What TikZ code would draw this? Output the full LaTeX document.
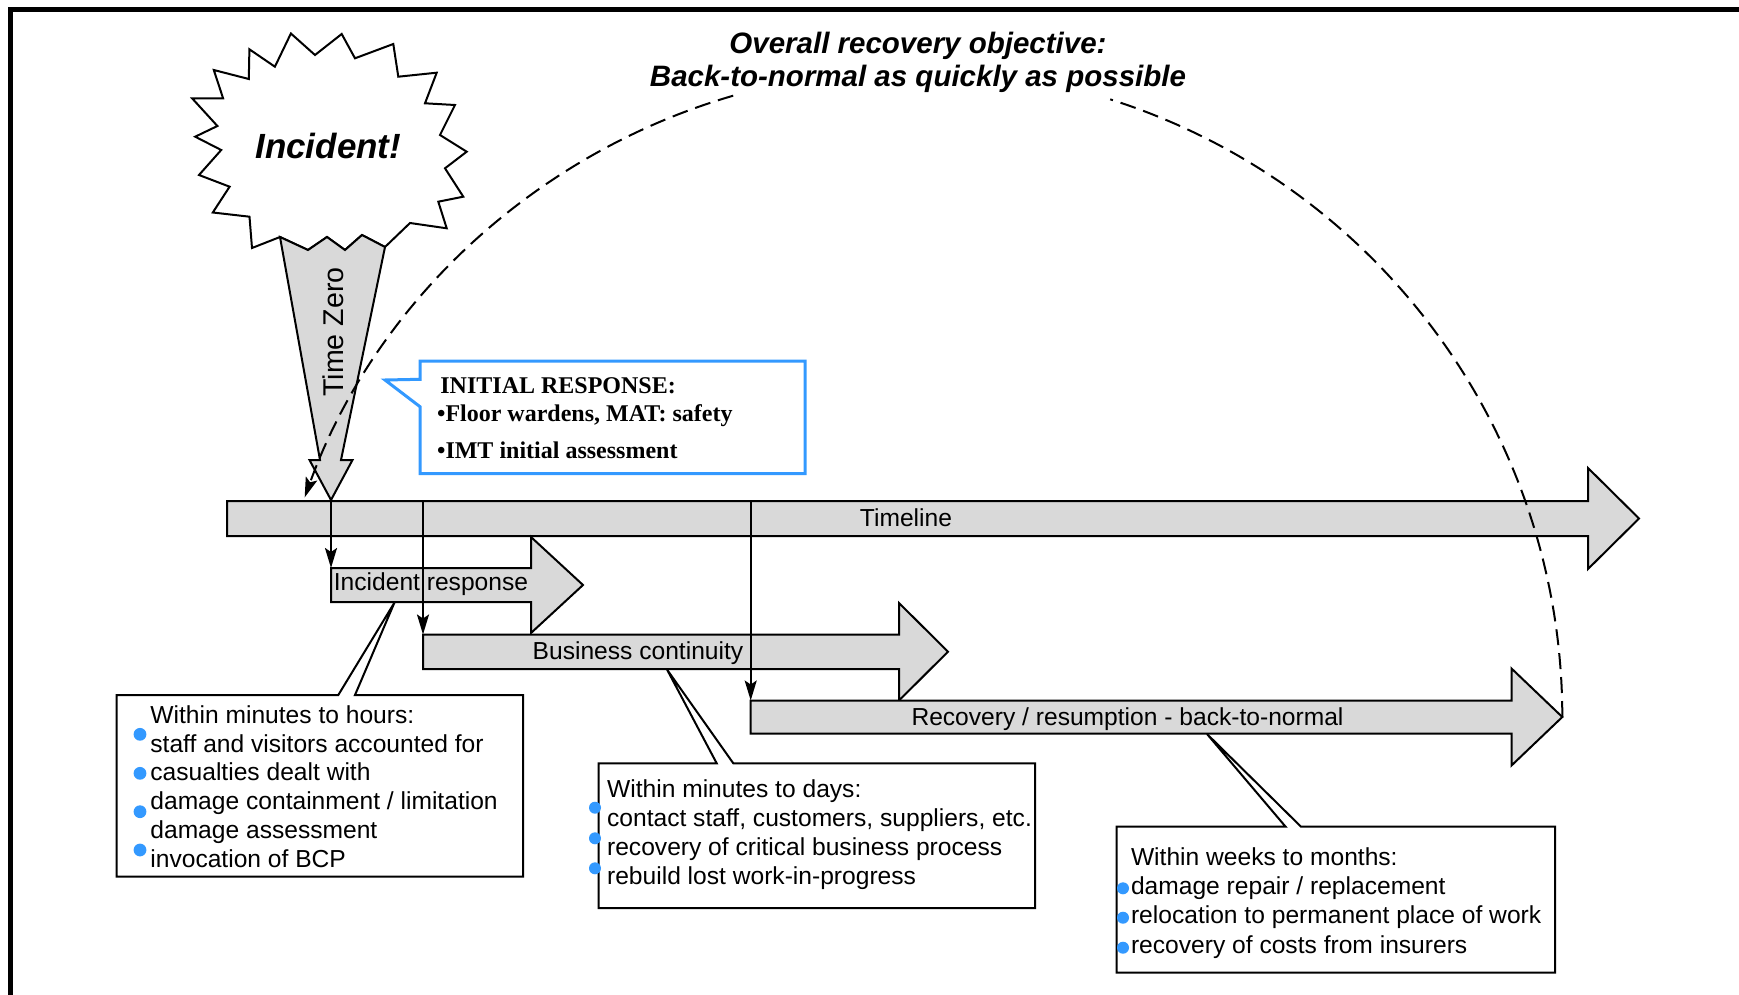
\documentclass[tikz,border=0pt]{standalone}
\usepackage{fontspec}
\newfontfamily\arialfont{Liberation Sans}
\newfontfamily\timesfont{Liberation Serif}
\usetikzlibrary{arrows.meta}
\definecolor{arrowgray}{RGB}{217,217,217}
\definecolor{calloutblue}{RGB}{51,153,255}
\definecolor{dotblue}{RGB}{51,153,255}
\begin{document}
\begin{tikzpicture}[x=0.5pt,y=-0.5pt,
  outline/.style={draw=black,line width=1pt,line join=miter},
  blockarrow/.style={outline,fill=arrowgray},
  calloutbox/.style={outline,fill=white},
  arrowlbl/.style={font=\arialfont\fontsize{12.3}{14.35}\selectfont,inner sep=0pt,anchor=base},
  boxtxt/.style={font=\arialfont\fontsize{12.3}{14.35}\selectfont,inner sep=0pt,anchor=base west},
  irtxt/.style={font=\timesfont\bfseries\fontsize{12}{14}\selectfont,inner sep=0pt,anchor=base west},
  titletxt/.style={font=\arialfont\bfseries\itshape\fontsize{14.75}{17}\selectfont,inner sep=0pt,anchor=base},
  smalltip/.style={-{Stealth[length=10pt,width=6pt,inset=2pt]}},
  conn/.style={draw=black,line width=1pt,smalltip},
  arcline/.style={draw=black,line width=1pt,dash pattern=on 8pt off 4pt},
]
\useasboundingbox (0,0) rectangle (1739,995);
% frame
\draw[line width=2.5pt,line join=miter] (10.5,995) -- (10.5,9.5) -- (1739,9.5);

% incident burst
\draw[outline,fill=white] (290.9,33.5) -- (315,55) -- (341.7,34) -- (355,58.3) -- (393.3,44) -- (398.3,76.7)
  -- (436.7,72.7) -- (425,103.3) -- (455,105) -- (440,135) -- (466.7,151.7) -- (445,168.3)
  -- (463.3,196.7) -- (438.3,201.7) -- (446.7,228.3) -- (410,223) -- (385,247) -- (362,235)
  -- (345,250) -- (327,237) -- (308,250) -- (280,237) -- (252,248) -- (249.5,216.7)
  -- (212.8,212.5) -- (229.6,186.7) -- (199,175) -- (221.2,150) -- (195.2,136.7) -- (217.4,126)
  -- (192.1,98.3) -- (223.1,98.3) -- (213.8,70) -- (248.8,79) -- (249.4,49.3) -- (274.9,66.7) -- cycle;
% time zero arrow
\draw[blockarrow] (280,237) -- (308,250) -- (327,237) -- (345,250) -- (362,235) -- (385,247)
  -- (341,460) -- (352.5,460) -- (331,500) -- (309.5,460) -- (320,460) -- cycle;

% block arrows
\draw[blockarrow] (227,501) -- (1588,501) -- (1588,468) -- (1639,518.5) -- (1588,569) -- (1588,536) -- (227,536) -- cycle;
\draw[blockarrow] (331,568) -- (531,568) -- (531,537) -- (583,585) -- (531,633) -- (531,602) -- (331,602) -- cycle;
\draw[blockarrow] (423,634.5) -- (899,634.5) -- (899,603) -- (948,651.7) -- (899,700.5) -- (899,669) -- (423,669) -- cycle;
\draw[blockarrow] (750.7,700.5) -- (1511.5,700.5) -- (1511.5,668.5) -- (1562.3,717) -- (1511.5,765.5) -- (1511.5,733.5) -- (750.7,733.5) -- cycle;

\node[arrowlbl] (tlLabel) at (906,526) {Timeline};
\node[arrowlbl] (irLabel) at (431,590.7) {Incident response};
\node[arrowlbl] (bcLabel) at (638,659.3) {Business continuity};
\node[arrowlbl] (recLabel) at (1127.5,725) {Recovery / resumption - back-to-normal};

% connectors from timeline
\coordinate (t1) at (331,501);
\coordinate (t2) at (423,501);
\coordinate (t3) at (750.7,501);
\coordinate (irNW) at (331,568);
\coordinate (bcNW) at (423,634.5);
\coordinate (recNW) at (750.7,700.5);
\coordinate (recTip) at (1562.3,717);
\draw[conn] (t1) -- (irNW);
\draw[conn] (t2) -- (bcNW);
\draw[conn] (t3) -- (recNW);

% callout boxes
\draw[calloutbox] (116.7,695) -- (338.3,695) -- (394.5,602.5) -- (355,695) -- (523,695) -- (523,876.7) -- (116.7,876.7) -- cycle;
\draw[calloutbox] (598.5,763.3) -- (716.7,763.3) -- (667,669.5) -- (733.3,763.3) -- (1035,763.3) -- (1035,908) -- (598.5,908) -- cycle;
\draw[calloutbox] (1116.5,826.7) -- (1285.6,826.7) -- (1207,734) -- (1301,826.7) -- (1555,826.7) -- (1555,972.7) -- (1116.5,972.7) -- cycle;

\foreach \t [count=\i] in {Within minutes to hours:, staff and visitors accounted for, casualties dealt with,
  damage containment / limitation, damage assessment, invocation of BCP}
  \node[boxtxt] (hA\i) at (150,{723.5+28.7*(\i-1)}) {\t};
\foreach \y in {734.3,773.3,811.7,850} \fill[dotblue] (140,\y) circle[radius=3.2pt];

\foreach \t [count=\i] in {Within minutes to days:, {contact staff, customers, suppliers, etc.},
  recovery of critical business process, rebuild lost work-in-progress}
  \node[boxtxt] (hB\i) at (606.7,{797.3+28.9*(\i-1)}) {\t};
\foreach \y in {807.7,838.3,868.3} \fill[dotblue] (595,\y) circle[radius=3pt];

\foreach \t [count=\i] in {Within weeks to months:, damage repair / replacement,
  relocation to permanent place of work, recovery of costs from insurers}
  \node[boxtxt] (hC\i) at (1130.6,{865+29.4*(\i-1)}) {\t};
\foreach \y in {888.3,917.7,947.7} \fill[dotblue] (1123,\y) circle[radius=3pt];

% initial response callout
\draw[draw=calloutblue,line width=1.5pt,fill=white,line join=miter] (420,361) -- (805,361) -- (805,473.5) -- (420,473.5)
  -- (420,406.7) -- (385,380) -- (420,379.3) -- cycle;
\node[irtxt] (ir1) at (440,393) {INITIAL RESPONSE:};
\node[irtxt] (ir2) at (436.7,421.7) {\textbullet Floor wardens, MAT: safety};
\node[irtxt] (ir3) at (436.7,458) {\textbullet IMT initial assessment};

% overall recovery arc
\draw[arcline] (recTip) arc[start angle=0, end angle=72.4, radius=324pt];
\coordinate (arcL) at (733.2,95.7);
\draw[arcline,smalltip] (arcL) arc[start angle=106.2, end angle=160.1, radius=324pt];

% texts
\node[titletxt] (title1) at (918,53.5) {Overall recovery objective:};
\node[titletxt] (title2) at (918,87) {Back-to-normal as quickly as possible};
\node[font=\arialfont\bfseries\itshape\fontsize{17.5}{20}\selectfont,inner sep=0pt,anchor=base] (incident) at (328.3,158.3) {Incident!};
\node[font=\arialfont\fontsize{14.3}{16}\selectfont,rotate=90,inner sep=0pt] (tz) at (333,332) {Time Zero};
\end{tikzpicture}
\end{document}
